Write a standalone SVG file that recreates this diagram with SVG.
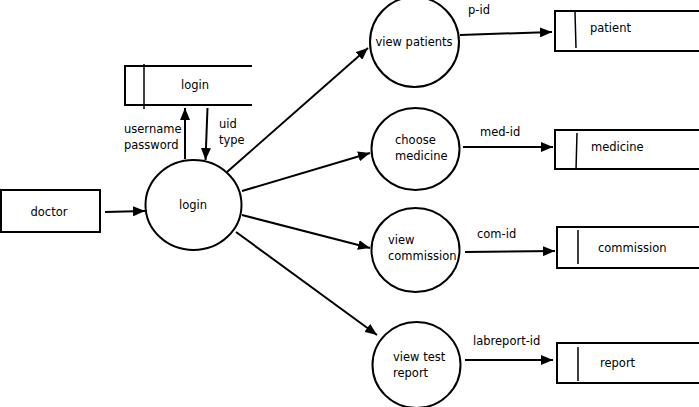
<svg xmlns="http://www.w3.org/2000/svg" width="699" height="407" viewBox="0 0 699 407">
<defs>
<marker id="ah" viewBox="0 0 12 10" refX="12" refY="5" markerWidth="12" markerHeight="10" markerUnits="userSpaceOnUse" orient="auto">
<path d="M0,0 L12,5 L0,10 Z" fill="#000"/>
</marker>
<style>
text{font-family:"DejaVu Sans","Liberation Sans",sans-serif;font-size:11.5px;fill:#000}
.c{fill:#fff;stroke:#000;stroke-width:2}
.s{fill:none;stroke:#000;stroke-width:2}
.d{fill:none;stroke:#000;stroke-width:1.5}
.f{fill:none;stroke:#000;stroke-width:2;marker-end:url(#ah)}
.m{text-anchor:middle}
</style>
</defs>
<rect width="699" height="407" fill="#fff"/>
<g id="connectors">
<line class="f" x1="105" y1="212" x2="145" y2="211"/>
<line class="f" x1="185" y1="159" x2="185" y2="108"/>
<line class="f" x1="207.5" y1="108" x2="205.5" y2="160"/>
<line class="f" x1="227" y1="172" x2="368" y2="48"/>
<line class="f" x1="242" y1="191" x2="370" y2="153"/>
<line class="f" x1="242" y1="215" x2="370" y2="248"/>
<line class="f" x1="236" y1="232" x2="377" y2="335"/>
<line class="f" x1="460" y1="35" x2="552" y2="32"/>
<line class="f" x1="463" y1="147" x2="553" y2="147"/>
<line class="f" x1="465" y1="252" x2="555" y2="251"/>
<line class="f" x1="465" y1="360" x2="553" y2="360"/>
<text x="124" y="133">username</text>
<text x="124" y="149">password</text>
<text x="219" y="128">uid</text>
<text x="219" y="144">type</text>
<text x="468" y="14">p-id</text>
<text x="480" y="136">med-id</text>
<text x="477" y="238">com-id</text>
<text x="473" y="345">labreport-id</text>
</g>
<g id="doctor">
<rect class="c" x="1" y="190" width="99" height="42"/>
<text class="m" x="49" y="216">doctor</text>
</g>
<g id="login-store">
<path class="s" d="M252,66 H125 V105 H252"/>
<line class="d" x1="144" y1="64" x2="144" y2="109"/>
<text class="m" x="195" y="89">login</text>
</g>
<g id="login">
<ellipse class="c" cx="193.5" cy="205" rx="48" ry="45"/>
<text class="m" x="193" y="209">login</text>
</g>
<g id="view-patients">
<ellipse class="c" cx="414.5" cy="42" rx="44.5" ry="45"/>
<text class="m" x="414" y="46">view patients</text>
</g>
<g id="choose-medicine">
<ellipse class="c" cx="415.5" cy="149" rx="44" ry="41"/>
<text x="395" y="144">choose</text>
<text x="395" y="160">medicine</text>
</g>
<g id="view-commission">
<ellipse class="c" cx="415.5" cy="250" rx="44" ry="42"/>
<text x="388" y="244">view</text>
<text x="388" y="260">commission</text>
</g>
<g id="view-test-report">
<ellipse class="c" cx="416.5" cy="365" rx="44" ry="43"/>
<text x="393" y="361">view test</text>
<text x="393" y="377">report</text>
</g>
<g id="patient">
<path class="s" d="M699,11 H555 V51 H699"/>
<line class="d" x1="575" y1="12" x2="576" y2="48"/>
<text x="590" y="32">patient</text>
</g>
<g id="medicine">
<path class="s" d="M699,130 H555 V169 H699"/>
<line class="d" x1="577" y1="133" x2="576" y2="170"/>
<text x="591" y="151">medicine</text>
</g>
<g id="commission">
<path class="s" d="M699,227 H557 V268 H699"/>
<line class="d" x1="578" y1="230" x2="578" y2="264"/>
<text x="598" y="252">commission</text>
</g>
<g id="report">
<path class="s" d="M699,343 H557 V383 H699"/>
<line class="d" x1="578" y1="347" x2="578" y2="381"/>
<text x="600" y="367">report</text>
</g>
</svg>
